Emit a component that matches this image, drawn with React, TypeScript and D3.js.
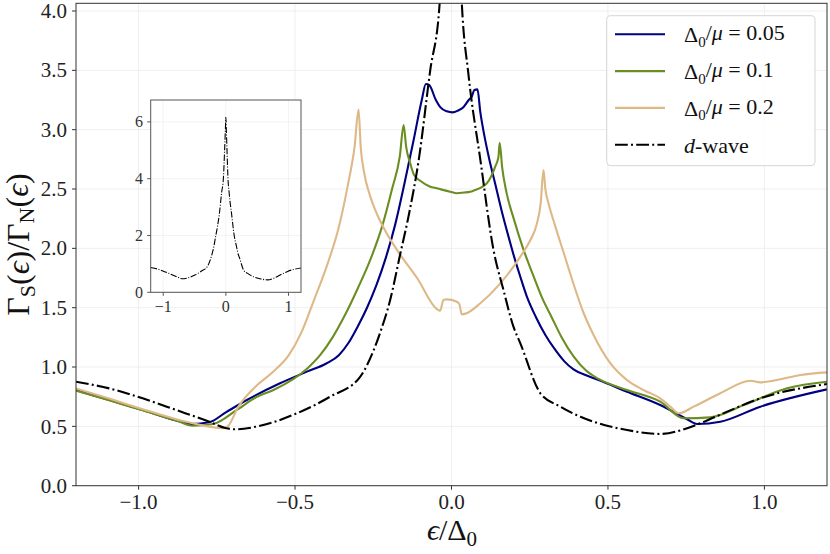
import React from 'react';
import * as d3 from 'd3';

// values, [epsilon/Delta0, Gamma_S/Gamma_N]
const series005: [number, number][] = [
  [-1.2, 0.806], [-1.094, 0.722], [-0.987, 0.638], [-0.88, 0.55], [-0.83, 0.52], [-0.774, 0.535],
  [-0.72, 0.62], [-0.654, 0.722], [-0.548, 0.863], [-0.462, 0.961], [-0.4, 1.03], [-0.36, 1.1],
  [-0.33, 1.2], [-0.3, 1.34], [-0.27, 1.5], [-0.24, 1.69], [-0.21, 1.92], [-0.18, 2.2],
  [-0.15, 2.55], [-0.121, 2.913], [-0.095, 3.25], [-0.082, 3.385], [-0.071, 3.375], [-0.05, 3.25],
  [-0.036, 3.19], [-0.015, 3.155], [0.004, 3.146], [0.02, 3.16], [0.038, 3.19], [0.055, 3.25],
  [0.065, 3.28], [0.073, 3.335], [0.083, 3.34], [0.092, 3.15], [0.105, 2.95], [0.12, 2.76],
  [0.14, 2.54], [0.16, 2.32], [0.18, 2.12], [0.2, 1.93], [0.22, 1.76], [0.24, 1.6], [0.27, 1.42],
  [0.3, 1.27], [0.33, 1.15], [0.36, 1.05], [0.39, 0.98], [0.43, 0.93], [0.47, 0.89], [0.561, 0.792],
  [0.667, 0.68], [0.753, 0.56], [0.785, 0.52], [0.859, 0.539], [0.987, 0.666], [1.2, 0.812],
];

const series01: [number, number][] = [
  [-1.2, 0.8], [-1.094, 0.72], [-0.987, 0.635], [-0.88, 0.55], [-0.827, 0.505], [-0.761, 0.52],
  [-0.686, 0.638], [-0.625, 0.745], [-0.569, 0.806], [-0.46, 0.99], [-0.42, 1.1], [-0.38, 1.25],
  [-0.34, 1.44], [-0.3, 1.66], [-0.26, 1.9], [-0.22, 2.2], [-0.19, 2.5], [-0.165, 2.78],
  [-0.153, 3.04], [-0.145, 2.857], [-0.132, 2.717], [-0.12, 2.62], [-0.1, 2.57], [-0.068, 2.52],
  [-0.047, 2.506], [-0.004, 2.477], [0.017, 2.464], [0.04, 2.47], [0.06, 2.477], [0.07, 2.486],
  [0.113, 2.548], [0.14, 2.69], [0.15, 2.77], [0.154, 2.89], [0.162, 2.68], [0.175, 2.48],
  [0.2, 2.24], [0.23, 1.99], [0.26, 1.78], [0.29, 1.58], [0.32, 1.42], [0.35, 1.26], [0.39, 1.09],
  [0.43, 0.97], [0.47, 0.9], [0.561, 0.806], [0.667, 0.708], [0.742, 0.568], [0.827, 0.576],
  [0.934, 0.68], [1.073, 0.821], [1.2, 0.876],
];

const series02: [number, number][] = [
  [-1.2, 0.82], [-1.094, 0.735], [-0.987, 0.645], [-0.88, 0.56], [-0.827, 0.526], [-0.731, 0.484],
  [-0.715, 0.5], [-0.681, 0.666], [-0.62, 0.85], [-0.57, 0.96], [-0.52, 1.1], [-0.48, 1.29],
  [-0.44, 1.56], [-0.4, 1.84], [-0.36, 2.18], [-0.33, 2.55], [-0.31, 2.85], [-0.297, 3.17],
  [-0.29, 2.85], [-0.28, 2.65], [-0.26, 2.44], [-0.24, 2.3], [-0.21, 2.14], [-0.17, 1.97],
  [-0.11, 1.75], [-0.042, 1.48], [-0.036, 1.475], [-0.026, 1.565], [-0.015, 1.57], [0.017, 1.55],
  [0.025, 1.53], [0.033, 1.444], [0.045, 1.45], [0.092, 1.537], [0.156, 1.705], [0.22, 1.93],
  [0.25, 2.06], [0.272, 2.2], [0.285, 2.38], [0.294, 2.66], [0.3, 2.5], [0.31, 2.38], [0.33, 2.2],
  [0.36, 1.95], [0.39, 1.7], [0.42, 1.47], [0.454, 1.27], [0.508, 1.03], [0.561, 0.89],
  [0.614, 0.806], [0.667, 0.736], [0.699, 0.666], [0.726, 0.61], [0.774, 0.666], [0.859, 0.779],
  [0.955, 0.885], [0.987, 0.871], [1.04, 0.89], [1.115, 0.933], [1.2, 0.955],
];

const dWave: [number, number][] = [
  [-1.2, 0.876], [-1.094, 0.82], [-0.987, 0.736], [-0.88, 0.638], [-0.774, 0.539], [-0.72, 0.484],
  [-0.688, 0.475], [-0.625, 0.497], [-0.494, 0.61], [-0.388, 0.75], [-0.292, 0.918], [-0.249, 1.14],
  [-0.228, 1.29], [-0.196, 1.565], [-0.164, 1.95], [-0.135, 2.3], [-0.105, 2.74], [-0.068, 3.5],
  [-0.038, 4.06], [-0.02, 5.0], [-0.008, 5.7], [0, 6.16], [0.008, 5.7], [0.02, 4.9], [0.033, 4.06],
  [0.054, 3.47], [0.092, 2.75], [0.134, 1.99], [0.166, 1.65], [0.198, 1.34], [0.22, 1.2],
  [0.284, 0.779], [0.348, 0.666], [0.412, 0.581], [0.454, 0.539], [0.561, 0.469], [0.667, 0.436],
  [0.753, 0.484], [0.795, 0.526], [0.881, 0.624], [0.987, 0.736], [1.2, 0.857],
];

const xTicks = [-1.0, -0.5, 0.0, 0.5, 1.0];
const yTicks = [0, 0.5, 1.0, 1.5, 2.0, 2.5, 3.0, 3.5, 4.0];
const insetXTicks = [-1, 0, 1];
const insetYTicks = [0, 2, 4, 6];

const legendItems = [
  { label: '0.05', color: 'navy', data: series005 },
  { label: '0.1', color: 'olivedrab', data: series01 },
  { label: '0.2', color: 'burlywood', data: series02 },
];

const FONT = '"Liberation Serif", "DejaVu Serif", serif';
const W = 830;
const H = 554;
const m = { left: 76, right: 827, top: 3.3, bottom: 485.7 };
const ins = { left: 150.7, right: 301, top: 100, bottom: 292.3 };

const App: React.FC = () => {
  const x = d3.scaleLinear().domain([-1.2, 1.2]).range([m.left, m.right]);
  const y = d3.scaleLinear().domain([0, 4.065]).range([m.bottom, m.top]);
  const ix = d3.scaleLinear().domain([-1.2, 1.2]).range([ins.left, ins.right]);
  const iy = d3.scaleLinear().domain([0, 6.77]).range([ins.bottom, ins.top]);

  const line = d3.line<[number, number]>()
    .x(d => x(d[0]))
    .y(d => y(d[1]))
    .curve(d3.curveMonotoneX);
  const insetLine = d3.line<[number, number]>()
    .x(d => ix(d[0]))
    .y(d => iy(d[1]))
    .curve(d3.curveMonotoneX);

  const fmt = d3.format('.1f');
  const fmtInt = d3.format('d');
  const dashDot = '12.8,3.2,2,3.2';

  return (
    <svg width={W} height={H} style={{ position: 'absolute', left: 0, top: 0, background: '#fff' }}
      fontFamily={FONT}>
      <defs>
        <clipPath id="mainClip">
          <rect x={m.left} y={m.top} width={m.right - m.left} height={m.bottom - m.top} />
        </clipPath>
        <clipPath id="insetClip">
          <rect x={ins.left} y={ins.top} width={ins.right - ins.left} height={ins.bottom - ins.top} />
        </clipPath>
      </defs>

      {/* grid */}
      {xTicks.map(t => (
        <line key={'gx' + t} x1={x(t)} x2={x(t)} y1={m.top} y2={m.bottom} stroke="#ebebeb" strokeWidth={0.8} />
      ))}
      {yTicks.map(t => (
        <line key={'gy' + t} x1={m.left} x2={m.right} y1={y(t)} y2={y(t)} stroke="#ebebeb" strokeWidth={0.8} />
      ))}

      {/* curves */}
      <g clipPath="url(#mainClip)" fill="none" strokeLinejoin="round">
        {legendItems.map(s => (
          <path key={s.label} d={line(s.data) || ''} stroke={s.color} strokeWidth={2.1} />
        ))}
        <path d={line(dWave) || ''} stroke="#000" strokeWidth={2.1} strokeDasharray={dashDot} />
      </g>

      {/* main axes */}
      <rect x={m.left} y={m.top} width={m.right - m.left} height={m.bottom - m.top}
        fill="none" stroke="#333" strokeWidth={1} />
      {xTicks.map(t => (
        <g key={'tx' + t}>
          <line x1={x(t)} x2={x(t)} y1={m.bottom} y2={m.bottom + 4} stroke="#333" />
          <text x={x(t)} y={509} fontSize={21} textAnchor="middle" fill="#222">{fmt(t)}</text>
        </g>
      ))}
      {yTicks.map(t => (
        <g key={'ty' + t}>
          <line x1={m.left - 4} x2={m.left} y1={y(t)} y2={y(t)} stroke="#333" />
          <text x={67} y={y(t)} dy="0.34em" fontSize={21} textAnchor="end" fill="#222">{fmt(t)}</text>
        </g>
      ))}

      {/* axis labels */}
      <text x={452} y={540} fontSize={30} textAnchor="middle" fill="#111">
        <tspan fontStyle="italic">ϵ</tspan>/Δ<tspan fontSize={21} dy="0.3em">0</tspan>
      </text>
      <text transform={`translate(29,${(m.top + m.bottom) / 2}) rotate(-90)`} fontSize={32}
        textAnchor="middle" fill="#111">
        Γ<tspan fontSize={22} dy="0.25em">S</tspan><tspan dy="-0.18em">(</tspan><tspan fontStyle="italic">ϵ</tspan>)/Γ<tspan fontSize={22} dy="0.25em">N</tspan><tspan dy="-0.18em">(</tspan><tspan fontStyle="italic">ϵ</tspan>)
      </text>

      {/* inset */}
      <rect x={ins.left} y={ins.top} width={ins.right - ins.left} height={ins.bottom - ins.top} fill="#fff" />
      {insetXTicks.map(t => (
        <line key={'igx' + t} x1={ix(t)} x2={ix(t)} y1={ins.top} y2={ins.bottom} stroke="#f0f0f0" strokeWidth={0.8} />
      ))}
      {insetYTicks.map(t => (
        <line key={'igy' + t} x1={ins.left} x2={ins.right} y1={iy(t)} y2={iy(t)} stroke="#f0f0f0" strokeWidth={0.8} />
      ))}
      <g clipPath="url(#insetClip)">
        <path d={insetLine(dWave) || ''} fill="none" stroke="#000" strokeWidth={1.1}
          strokeDasharray="6.4,1.6,1,1.6" />
      </g>
      <rect x={ins.left} y={ins.top} width={ins.right - ins.left} height={ins.bottom - ins.top}
        fill="none" stroke="#555" strokeWidth={1} />
      {insetXTicks.map(t => (
        <g key={'itx' + t}>
          <line x1={ix(t)} x2={ix(t)} y1={ins.bottom} y2={ins.bottom + 3.5} stroke="#555" />
          <text x={ix(t)} y={312} fontSize={16} textAnchor="middle" fill="#333">{fmtInt(t)}</text>
        </g>
      ))}
      {insetYTicks.map(t => (
        <g key={'ity' + t}>
          <line x1={ins.left - 3.5} x2={ins.left} y1={iy(t)} y2={iy(t)} stroke="#555" />
          <text x={143} y={iy(t)} dy="0.34em" fontSize={16} textAnchor="end" fill="#333">{fmtInt(t)}</text>
        </g>
      ))}

      {/* legend */}
      <rect x={606.7} y={15.7} width={208.3} height={150} rx={4} fill="#fff" fillOpacity={0.85}
        stroke="#d5d5d5" strokeWidth={1} />
      {legendItems.map((s, i) => {
        const ly = 34.3 + i * 36.8;
        return (
          <g key={'lg' + s.label}>
            <line x1={615} x2={665} y1={ly} y2={ly} stroke={s.color} strokeWidth={2.1} />
            <text x={684} y={ly + 8} fontSize={22} fill="#111">
              Δ<tspan fontSize={15} dy="0.3em">0</tspan><tspan dy="-0.3em">/</tspan><tspan fontStyle="italic">μ</tspan> = {s.label}
            </text>
          </g>
        );
      })}
      <line x1={615} x2={665} y1={144.7} y2={144.7} stroke="#000" strokeWidth={2.1} strokeDasharray={dashDot} />
      <text x={684} y={152.7} fontSize={22} fill="#111">
        <tspan fontStyle="italic">d</tspan>-wave
      </text>
    </svg>
  );
};

export default App;
